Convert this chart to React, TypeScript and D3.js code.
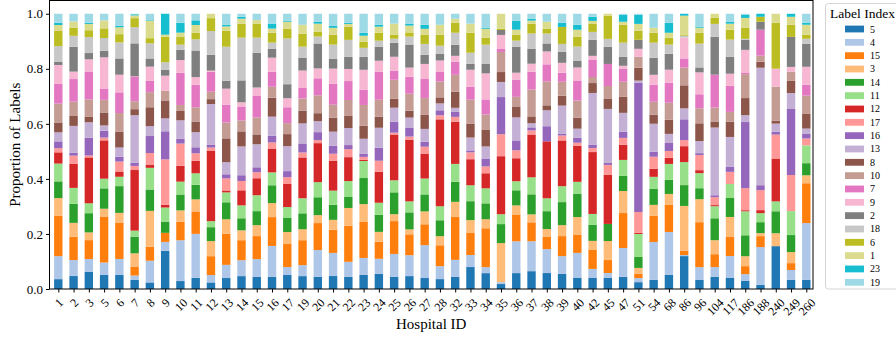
import { useEffect, useRef } from 'react';
import * as d3 from 'd3';

const hospitals = [
  '1', '2', '3', '5', '6', '7', '8', '9', '10', '11', '12', '13', '14', '15', '16', '17', '19',
  '20', '21', '22', '23', '24', '25', '26', '27', '28', '32', '33', '34', '35', '36', '37', '38',
  '39', '40', '42', '45', '47', '51', '54', '68', '86', '96', '104', '117', '186', '188', '240',
  '249', '260',
];

// stacking order, bottom to top (same as legend)
const labelOrder = ['5', '4', '15', '3', '14', '11', '12', '17', '16', '13', '8', '10', '7', '9', '2', '18', '6', '1', '23', '19'];
const labelColors = [
  '#1f77b4', '#aec7e8', '#ff7f0e', '#ffbb78', '#2ca02c', '#98df8a', '#d62728', '#ff9896', '#9467bd', '#c5b0d5',
  '#8c564b', '#c49c94', '#e377c2', '#f7b6d2', '#7f7f7f', '#c7c7c7', '#bcbd22', '#dbdb8d', '#17becf', '#9edae5',
];

// share of each label per hospital (percent, one value per hospital)
const label5 = [
  3.6, 4.7, 6.3, 5.1, 5.1, 3.3, 2.4, 13.9, 2.9, 4.1,
  2.4, 4.0, 4.7, 4.4, 4.4, 5.1, 4.7, 4.4, 4.7, 4.4,
  5.1, 5.5, 4.4, 4.7, 4.0, 3.6, 4.4, 8.0, 5.8, 1.8,
  5.8, 6.5, 5.8, 5.5, 4.0, 4.0, 4.0, 4.4, 2.5, 3.3,
  5.1, 12.0, 3.3, 4.4, 4.0, 2.9, 1.5, 15.6, 3.3, 3.3,
];
const label4 = [
  8.4, 5.8, 4.6, 4.5, 5.8, 1.6, 7.9, 3.2, 14.9, 16.0,
  2.7, 4.8, 5.8, 6.5, 11.3, 2.9, 4.0, 9.8, 8.4, 5.5,
  6.2, 5.5, 8.4, 7.6, 12.0, 4.7, 6.2, 4.4, 2.2, 0.7,
  11.6, 10.9, 8.7, 6.5, 9.1, 3.3, 1.8, 10.5, 1.5, 13.8,
  15.6, 0.4, 4.7, 3.6, 8.0, 2.5, 13.8, 0, 3.6, 20.7,
];
const label15 = [
  14.7, 8.5, 6.9, 16.7, 13.2, 3.3, 5.1, 3.3, 6.7, 8.2,
  6.9, 11.3, 7.3, 8.4, 10.5, 8.4, 9.1, 9.8, 8.4, 13.1,
  13.1, 6.2, 12.0, 7.6, 7.6, 7.6, 15.6, 8.0, 14.2, 0,
  9.8, 6.9, 4.4, 7.3, 6.5, 6.9, 4.7, 12.7, 1.5, 9.5,
  9.8, 1.5, 16.4, 4.7, 6.9, 2.9, 4.0, 0, 2.5, 14.5,
];
const label3 = [
  6.5, 5.0, 2.8, 2.8, 3.5, 4.8, 13.1, 0, 4.2, 4.4,
  5.5, 5.3, 3.6, 4.0, 5.1, 4.4, 4.0, 2.9, 3.6, 6.5,
  6.5, 3.6, 2.5, 1.8, 4.7, 3.3, 5.5, 4.7, 3.3, 14.2,
  3.3, 2.9, 2.9, 4.0, 6.5, 3.3, 6.9, 8.0, 2.2, 4.0,
  4.0, 16.4, 8.4, 5.1, 7.3, 3.6, 1.1, 4.7, 4.0, 2.9,
];
const label14 = [
  6.1, 6.9, 7.0, 7.4, 9.7, 6.1, 7.8, 4.1, 5.8, 5.3,
  5.1, 6.2, 4.4, 5.1, 6.5, 5.1, 5.8, 6.5, 5.5, 4.0,
  9.5, 6.2, 8.0, 6.2, 6.2, 5.8, 7.3, 6.9, 5.8, 6.9,
  5.5, 7.3, 6.5, 8.4, 8.4, 5.8, 6.2, 5.5, 4.0, 5.8,
  5.1, 7.6, 4.0, 8.0, 6.9, 7.6, 4.0, 8.0, 6.2, 4.4,
];
const label11 = [
  6.5, 5.8, 3.6, 3.5, 3.4, 2.2, 7.9, 5.1, 4.7, 4.2,
  2.2, 3.6, 4.7, 5.8, 4.7, 4.0, 5.5, 5.5, 5.1, 5.8,
  6.2, 4.4, 4.4, 4.0, 5.8, 5.1, 6.5, 5.8, 5.5, 3.6,
  3.3, 6.2, 4.7, 5.8, 4.4, 4.0, 0, 5.8, 8.4, 4.4,
  5.8, 8.4, 5.5, 4.4, 5.1, 8.7, 3.3, 3.6, 8.7, 6.5,
];
const label12 = [
  4.1, 8.7, 16.7, 13.9, 1.9, 22.1, 1.2, 1.0, 5.8, 4.6,
  25.8, 0.7, 5.5, 6.2, 8.7, 8.4, 14.9, 14.2, 10.9, 8.7,
  0.4, 11.3, 16.7, 22.5, 9.1, 31.6, 15.3, 9.5, 5.5, 21.1,
  8.4, 15.6, 20.7, 16.7, 13.1, 22.5, 17.8, 5.5, 0.4, 2.9,
  2.2, 5.8, 1.1, 0.4, 0, 0.4, 1.1, 15.6, 0, 0,
];
const label17 = [
  1.5, 3.0, 0.7, 1.0, 3.6, 1.5, 4.2, 16.5, 8.1, 2.7,
  1.1, 4.4, 3.4, 2.2, 2.2, 2.5, 1.8, 1.1, 2.5, 2.9,
  1.1, 4.0, 0.7, 1.1, 2.5, 1.5, 1.8, 2.5, 2.5, 8.0,
  2.9, 1.5, 0, 1.8, 1.1, 1.5, 3.6, 2.5, 7.6, 4.4,
  2.5, 2.2, 5.5, 2.9, 4.4, 8.0, 7.3, 8.7, 13.1, 2.5,
];
const label16 = [
  2.5, 1.0, 6.5, 2.5, 1.8, 1.2, 6.2, 10.2, 1.8, 2.2,
  1.1, 1.5, 2.1, 1.8, 2.5, 2.2, 3.3, 2.9, 2.9, 1.5,
  1.1, 4.7, 4.0, 3.3, 1.8, 1.8, 1.8, 0.7, 2.9, 13.5,
  3.6, 1.1, 5.5, 0.7, 1.8, 1.1, 0.7, 2.2, 47.3, 1.8,
  2.9, 7.6, 0.7, 0.7, 1.8, 24.0, 1.8, 1.1, 24.0, 1.8,
];
const label13 = [
  3.3, 9.8, 5.6, 1.9, 3.3, 17.3, 3.6, 4.7, 6.7, 5.5,
  14.8, 4.4, 10.5, 8.4, 6.9, 9.1, 7.3, 4.0, 5.1, 6.2,
  5.5, 7.3, 5.1, 3.6, 4.7, 2.5, 1.5, 4.7, 4.4, 5.5,
  8.4, 1.5, 5.8, 10.2, 3.3, 18.9, 19.6, 6.9, 0.7, 10.2,
  3.3, 4.0, 4.4, 24.7, 10.9, 2.5, 42.9, 2.9, 5.8, 1.8,
];
const label8 = [
  3.6, 3.6, 2.1, 4.7, 5.8, 2.2, 6.9, 6.5, 3.4, 3.9,
  1.8, 8.7, 5.5, 3.6, 6.9, 4.4, 4.7, 2.9, 5.1, 4.4,
  4.7, 4.0, 3.3, 2.5, 5.1, 2.2, 5.8, 5.1, 6.2, 3.6,
  4.0, 2.5, 1.8, 3.6, 4.0, 3.6, 3.6, 5.8, 4.7, 3.3,
  5.1, 8.4, 6.5, 2.2, 5.5, 6.2, 2.2, 1.1, 4.4, 5.5,
];
const label10 = [
  6.9, 5.2, 6.2, 4.6, 6.7, 2.9, 5.5, 3.5, 2.2, 5.2,
  2.7, 5.8, 4.0, 6.2, 4.0, 4.0, 4.4, 6.5, 4.7, 5.8,
  7.6, 6.2, 6.9, 6.2, 6.2, 5.8, 6.2, 8.7, 5.5, 7.3,
  3.5, 9.8, 8.7, 5.1, 6.2, 2.2, 4.7, 5.5, 4.0, 4.7,
  6.2, 6.5, 5.5, 5.1, 3.6, 8.7, 2.2, 12.4, 3.3, 6.5,
];
const label7 = [
  7.2, 8.2, 10.2, 4.1, 7.5, 9.0, 4.1, 0, 11.8, 8.2,
  7.3, 6.5, 5.1, 8.0, 5.5, 5.8, 4.0, 6.2, 7.6, 6.9,
  5.5, 10.2, 3.3, 6.2, 6.9, 3.6, 4.7, 4.7, 5.5, 1.1,
  6.3, 6.5, 6.2, 3.3, 7.3, 6.2, 8.0, 4.7, 0, 6.2,
  7.3, 3.3, 5.1, 12.0, 9.5, 0.4, 9.5, 0, 0, 4.0,
];
const label9 = [
  6.9, 2.7, 4.4, 11.3, 6.4, 0.1, 5.2, 5.5, 4.6, 2.8,
  0.4, 5.8, 1.5, 2.9, 5.1, 3.3, 6.2, 3.6, 5.5, 4.4,
  7.3, 4.0, 5.1, 3.3, 5.5, 4.0, 2.2, 6.2, 9.5, 5.1,
  2.5, 2.9, 4.7, 3.6, 4.7, 1.5, 0, 1.1, 2.9, 3.6,
  4.7, 7.6, 8.0, 0, 4.4, 8.4, 0, 6.5, 1.8, 6.5,
];
const label2 = [
  1.1, 9.0, 2.3, 2.4, 5.9, 12.0, 3.0, 2.2, 3.8, 9.7,
  5.8, 2.9, 8.0, 12.7, 3.3, 5.1, 4.7, 9.1, 3.6, 4.4,
  4.7, 5.1, 5.1, 8.4, 3.3, 2.5, 4.0, 2.2, 3.6, 1.8,
  9.5, 5.5, 2.9, 4.0, 2.5, 5.8, 6.2, 3.3, 3.3, 6.2,
  5.8, 0, 1.8, 13.8, 6.2, 3.6, 2.9, 0, 10.9, 8.4,
];
const label18 = [
  5.8, 4.0, 5.8, 4.6, 5.8, 5.9, 5.5, 2.7, 1.8, 4.1,
  8.7, 12.4, 15.6, 5.5, 2.2, 16.7, 4.0, 2.5, 5.1, 6.2,
  3.3, 2.2, 1.5, 2.9, 4.0, 2.9, 4.4, 4.0, 6.9, 0,
  2.2, 5.5, 3.6, 2.9, 5.1, 2.9, 2.9, 5.1, 0, 5.5,
  3.3, 0.7, 8.7, 4.7, 6.2, 0.4, 0, 0, 0, 1.8,
];
const label6 = [
  5.5, 2.9, 2.5, 3.5, 3.0, 3.3, 1.9, 9.3, 2.8, 2.4,
  4.7, 5.8, 5.1, 5.1, 3.6, 3.6, 4.7, 1.8, 3.6, 4.7,
  2.2, 2.9, 1.5, 1.5, 3.3, 4.0, 3.6, 7.3, 2.5, 0.4,
  2.2, 3.6, 1.8, 6.2, 3.6, 2.9, 8.4, 6.5, 3.3, 3.6,
  2.5, 0.4, 4.0, 2.2, 3.6, 4.0, 1.8, 16.7, 4.4, 1.5,
];
const label1 = [
  2.2, 2.3, 2.3, 2.9, 2.5, 1.0, 6.4, 0.7, 1.6, 2.8,
  1.6, 1.6, 1.8, 1.3, 1.5, 2.5, 3.3, 2.9, 2.5, 1.1,
  2.2, 2.2, 4.0, 2.5, 2.2, 3.6, 1.5, 3.3, 3.3, 5.5,
  1.8, 1.1, 2.5, 0, 2.5, 1.1, 0.7, 1.1, 2.5, 1.8,
  1.8, 6.9, 1.8, 1.5, 2.2, 3.6, 0, 3.3, 2.9, 3.6,
];
const label23 = [
  0.8, 0, 0.4, 0, 0.5, 0.4, 0.2, 7.6, 3.6, 1.7,
  0, 0.6, 0.7, 0, 1.8, 0.4, 0, 0.7, 0.7, 0.4,
  1.1, 0.7, 0, 0.7, 1.5, 0, 0, 0, 0.4, 0,
  3.3, 0.7, 0, 1.5, 1.8, 1.5, 0, 2.5, 3.3, 0,
  3.6, 0.7, 0.4, 0, 0.7, 1.1, 1.1, 0, 1.1, 0.7,
];
const label19 = [
  3.3, 2.8, 3.3, 2.4, 4.4, 0.2, 2.3, 0, 3.3, 2.4,
  0, 4.0, 1.1, 2.3, 3.6, 2.5, 4.0, 2.9, 4.4, 3.3,
  6.9, 4.0, 3.6, 3.6, 4.0, 4.0, 1.8, 3.6, 5.1, 0,
  2.5, 1.8, 2.9, 3.3, 4.0, 1.1, 0, 0.4, 0.4, 5.1,
  3.3, 0, 4.7, 0, 2.9, 0.4, 0, 0, 0, 3.3,
];

const seriesByLabel = [
  label5, label4, label15, label3, label14, label11, label12, label17, label16, label13,
  label8, label10, label7, label9, label2, label18, label6, label1, label23, label19,
];

const yTicks = [0, 0.2, 0.4, 0.6, 0.8, 1.0];

const FONT = '"Liberation Serif", "Times New Roman", serif';

export default function App() {
  const ref = useRef<SVGSVGElement | null>(null);

  useEffect(() => {
    if (!ref.current) return;
    document.body.style.margin = '0';
    const svg = d3.select(ref.current);
    svg.selectAll('*').remove();

    const left = 49.5;
    const right = 813;
    const top = 0.5;
    const bottom = 289;

    const rows = hospitals.map((h, i) => {
      const row: Record<string, number | string> = { hospital: h };
      labelOrder.forEach((lab, j) => {
        row[lab] = seriesByLabel[j][i];
      });
      return row;
    });

    const stacked = d3
      .stack<Record<string, number | string>>()
      .keys(labelOrder)
      .value((d, key) => d[key] as number)
      .offset(d3.stackOffsetExpand)(rows);

    const x = d3.scalePoint<string>().domain(hospitals).range([58.3, 806.3]);
    const y = d3.scaleLinear().domain([0, 1.05]).range([bottom, top - 0.5]);
    const bw = x.step() * 0.55;

    const color = d3.scaleOrdinal<string, string>().domain(labelOrder).range(labelColors);

    const bars = svg.append('g');
    stacked.forEach((layer) => {
      bars
        .append('g')
        .attr('fill', color(layer.key))
        .selectAll('rect')
        .data(layer)
        .join('rect')
        .attr('x', (d) => (x(d.data.hospital as string) ?? 0) - bw / 2)
        .attr('y', (d) => y(d[1]))
        .attr('width', bw)
        .attr('height', (d) => Math.max(0, y(d[0]) - y(d[1])));
    });

    // y axis
    const yAxis = svg
      .append('g')
      .attr('transform', `translate(${left},0)`)
      .call(d3.axisLeft(y).tickValues(yTicks).tickFormat(d3.format('.1f')).tickSize(3.5).tickPadding(3));
    yAxis.select('.domain').remove();
    yAxis.selectAll('text').attr('font-family', FONT).attr('font-size', 13).attr('fill', '#000');
    yAxis.selectAll('line').attr('stroke', '#000');

    // x axis: labels rotated 45deg, box centred under the tick
    const xAxis = svg
      .append('g')
      .attr('transform', `translate(0,${bottom})`)
      .call(d3.axisBottom(x).tickSize(3.5));
    xAxis.select('.domain').remove();
    xAxis.selectAll('line').attr('stroke', '#000');
    xAxis
      .selectAll<SVGTextElement, string>('text')
      .attr('font-family', FONT)
      .attr('font-size', 12)
      .attr('fill', '#000')
      .attr('text-anchor', 'middle')
      .attr('y', 0)
      .attr('dy', '0.35em')
      .each(function () {
        const len = this.getComputedTextLength();
        const cy = 7 + ((len + 13) * Math.SQRT1_2) / 2;
        d3.select(this).attr('transform', `translate(0,${cy}) rotate(-45)`);
      });

    // frame
    svg
      .append('rect')
      .attr('x', left)
      .attr('y', top)
      .attr('width', right - left)
      .attr('height', bottom - top)
      .attr('fill', 'none')
      .attr('stroke', '#000')
      .attr('stroke-width', 1);

    svg
      .append('text')
      .attr('transform', `translate(20,${(top + bottom) / 2}) rotate(-90)`)
      .attr('text-anchor', 'middle')
      .attr('font-family', FONT)
      .attr('font-size', 15)
      .text('Proportion of Labels');

    svg
      .append('text')
      .attr('x', (left + right) / 2)
      .attr('y', 329)
      .attr('text-anchor', 'middle')
      .attr('font-family', FONT)
      .attr('font-size', 15)
      .text('Hospital ID');

    // legend
    const lg = svg.append('g');
    lg.append('rect')
      .attr('x', 825.5)
      .attr('y', 3.5)
      .attr('width', 90)
      .attr('height', 285.5)
      .attr('rx', 3)
      .attr('fill', '#fff')
      .attr('stroke', '#d5d5d5');
    lg.append('text')
      .attr('x', 862.5)
      .attr('y', 18)
      .attr('text-anchor', 'middle')
      .attr('font-family', FONT)
      .attr('font-size', 13.5)
      .text('Label Index');
    const rowY = d3.scaleLinear().domain([0, labelOrder.length - 1]).range([29, 282.3]);
    const items = lg
      .selectAll('g.item')
      .data(labelOrder)
      .join('g')
      .attr('class', 'item')
      .attr('transform', (_d, i) => `translate(0,${rowY(i)})`);
    items
      .append('rect')
      .attr('x', 845)
      .attr('y', -3.4)
      .attr('width', 19)
      .attr('height', 6.8)
      .attr('fill', (d) => color(d));
    items
      .append('text')
      .attr('x', 870)
      .attr('y', 0)
      .attr('dy', '0.35em')
      .attr('font-family', FONT)
      .attr('font-size', 10)
      .text((d) => d);
  }, []);

  return (
    <svg
      ref={ref}
      width={896}
      height={337}
      viewBox="0 0 896 337"
      style={{ position: 'absolute', left: 0, top: 0, background: '#fff' }}
    />
  );
}
